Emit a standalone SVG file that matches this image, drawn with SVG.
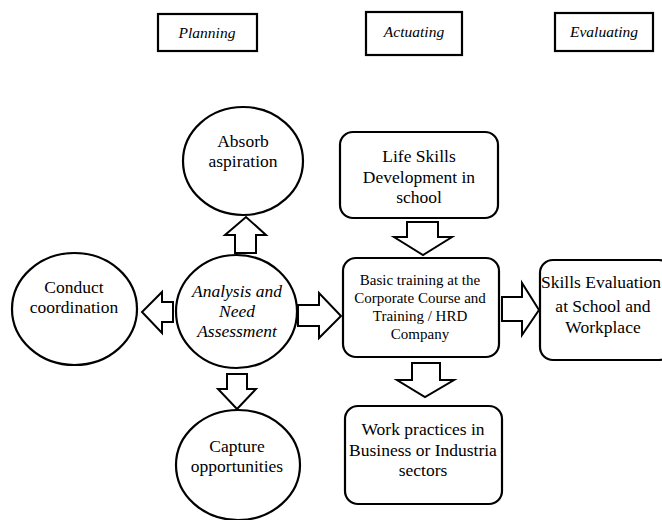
<svg xmlns="http://www.w3.org/2000/svg" width="662" height="520" viewBox="0 0 662 520" font-family="'Liberation Serif', 'DejaVu Serif', 'Times New Roman', serif">
<style>
.bg{fill:#fff}
.hdr{fill:#fff;stroke:#000;stroke-width:2.2}
.node{fill:#fff;stroke:#000;stroke-width:2.2}
.arr{fill:#fff;stroke:#000;stroke-width:2;stroke-linejoin:miter}
text{font-family:'Liberation Serif','DejaVu Serif','Times New Roman',serif;fill:#000;text-anchor:middle}
.h{font-size:15.5px;font-style:italic}
.t{font-size:17.5px}
.ti{font-size:17.5px;font-style:italic}
.s{font-size:15px}
</style>
<rect class="bg" x="0" y="0" width="662" height="520"/>
<g id="header-planning"><rect class="hdr" x="158" y="14" width="99" height="37"/><text class="h" x="207" y="38">Planning</text></g>
<g id="header-actuating"><rect class="hdr" x="366" y="12" width="96" height="43"/><text class="h" x="414" y="37">Actuating</text></g>
<g id="header-evaluating"><rect class="hdr" x="555" y="13" width="98" height="38"/><text class="h" x="604" y="37">Evaluating</text></g>

<g id="absorb"><ellipse class="node" cx="243" cy="161" rx="60" ry="54"/><text class="t" x="243" y="147">Absorb</text><text class="t" x="243" y="167">aspiration</text></g>
<g id="analysis"><ellipse class="node" cx="236.5" cy="311.5" rx="60.5" ry="56.5"/><text class="ti" x="237" y="297">Analysis and</text><text class="ti" x="237" y="317">Need</text><text class="ti" x="237" y="337">Assessment</text></g>
<g id="conduct"><ellipse class="node" cx="74.5" cy="309" rx="62.5" ry="56"/><text class="t" x="74" y="293">Conduct</text><text class="t" x="74" y="313">coordination</text></g>
<g id="capture"><ellipse class="node" cx="238" cy="465" rx="62" ry="55"/><text class="t" x="237" y="452">Capture</text><text class="t" x="237" y="472">opportunities</text></g>

<g id="life-skills"><rect class="node" x="340" y="132" width="158" height="86" rx="13"/><text class="t" x="419" y="162">Life Skills</text><text class="t" x="419" y="183">Development in</text><text class="t" x="419" y="203">school</text></g>
<g id="basic-training"><rect class="node" x="343" y="258" width="156" height="99" rx="13"/><text class="s" x="420" y="285">Basic training at the</text><text class="s" x="420" y="303">Corporate Course and</text><text class="s" x="420" y="321">Training / HRD</text><text class="s" x="420" y="339">Company</text></g>
<g id="work-practices"><rect class="node" x="345" y="406" width="157" height="98" rx="13"/><text class="t" x="423" y="435">Work practices in</text><text class="t" x="423" y="456">Business or Industria</text><text class="t" x="423" y="476">sectors</text></g>
<g id="skills-evaluation"><rect class="node" x="540" y="260" width="132" height="100" rx="13"/><text class="t" x="601" y="288">Skills Evaluation</text><text class="t" x="603" y="312">at School and</text><text class="t" x="603" y="333">Workplace</text></g>

<g id="connectors">
<polygon class="arr" points="235,253 235,235 225,235 246,217 266,235 256,235 256,253"/>
<polygon class="arr" points="173,302 162,302 162,292 142,312 162,333 162,322 173,322"/>
<polygon class="arr" points="298,305 319,305 319,293 341,316 319,338 319,326 298,326"/>
<polygon class="arr" points="227,374 247,374 247,389 256,389 237,409 218,389 227,389"/>
<polygon class="arr" points="407,222 438,222 438,237 452,237 423,255 394,237 407,237"/>
<polygon class="arr" points="502,297 522,297 522,283 539,310 522,335 522,321 502,321"/>
<polygon class="arr" points="412,363 440,363 440,380 454,380 425,397 397,380 412,380"/>
</g>
</svg>
